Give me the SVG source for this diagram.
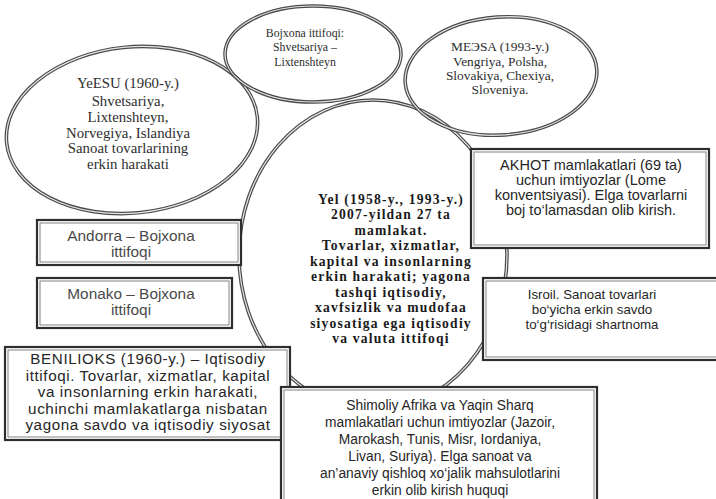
<svg xmlns="http://www.w3.org/2000/svg" width="716" height="499" viewBox="0 0 716 499">
<style>
.ro{fill:none;stroke:#4a4a4a;stroke-width:3.6}
.ri{fill:none;stroke:#e6e6e6;stroke-width:1.2}
.bo{fill:#fff;stroke:#2e2e2e;stroke-width:2.2}
.bi{fill:none;stroke:#777;stroke-width:0.9}
.serif{font-family:"Liberation Serif","DejaVu Serif",serif;fill:#2e2e2e;text-anchor:middle}
.sans{font-family:"Liberation Sans","DejaVu Sans",sans-serif;fill:#262626;text-anchor:middle}
.bold{font-weight:bold;fill:#1a1a1a}
.gray{fill:#4a4a4a}
</style>
<rect width="716" height="499" fill="#fff"/>
<g id="connectors"/>
<g id="yel">
<ellipse class="ro" cx="373" cy="255" rx="134" ry="155"/>
<ellipse class="ri" cx="373" cy="255" rx="134" ry="155"/>
<g class="serif bold" font-size="13.6" letter-spacing="1.2">
<text x="391" y="204">Yel (1958-y., 1993-y.)</text>
<text x="391" y="219">2007-yildan 27 ta</text>
<text x="391" y="235">mamlakat.</text>
<text x="391" y="250">Tovarlar, xizmatlar,</text>
<text x="391" y="266">kapital va insonlarning</text>
<text x="391" y="281">erkin harakati; yagona</text>
<text x="391" y="297">tashqi iqtisodiy,</text>
<text x="391" y="312">xavfsizlik va mudofaa</text>
<text x="391" y="328">siyosatiga ega iqtisodiy</text>
<text x="391" y="343">va valuta ittifoqi</text>
</g>
</g>
<g id="yeesu">
<g transform="rotate(-6 132 130)">
<ellipse class="ro" cx="132" cy="130" rx="126" ry="83"/>
<ellipse class="ri" cx="132" cy="130" rx="126" ry="83"/>
</g>
<g class="serif" font-size="14.8">
<text x="128" y="88">YeESU (1960-y.)</text>
<text x="128" y="106">Shvetsariya,</text>
<text x="128" y="122">Lixtenshteyn,</text>
<text x="128" y="138">Norvegiya, Islandiya</text>
<text x="128" y="153">Sanoat tovarlarining</text>
<text x="128" y="169">erkin harakati</text>
</g>
</g>
<g id="bojxona">
<ellipse class="ro" cx="313" cy="54" rx="88" ry="48"/>
<ellipse class="ri" cx="313" cy="54" rx="88" ry="48"/>
<g class="serif" font-size="11.8">
<text x="305" y="37">Bojxona ittifoqi:</text>
<text x="305" y="51">Shvetsariya –</text>
<text x="305" y="66">Lixtenshteyn</text>
</g>
</g>
<g id="meesa">
<g transform="rotate(-4 501 76)">
<ellipse class="ro" cx="501" cy="76" rx="96" ry="59"/>
<ellipse class="ri" cx="501" cy="76" rx="96" ry="59"/>
</g>
<g class="serif" font-size="13.4">
<text x="500" y="51">MEЭSA (1993-y.)</text>
<text x="500" y="66">Vengriya, Polsha,</text>
<text x="500" y="80">Slovakiya, Chexiya,</text>
<text x="500" y="94">Sloveniya.</text>
</g>
</g>
<g id="akhot">
<rect class="bo" x="471" y="149" width="238" height="99"/>
<rect class="bi" x="474" y="152" width="232" height="93"/>
<g class="sans" font-size="14.5">
<text x="591" y="170">AKHOT mamlakatlari (69 ta)</text>
<text x="591" y="185">uchun imtiyozlar (Lome</text>
<text x="591" y="200">konventsiyasi). Elga tovarlarni</text>
<text x="591" y="215">boj to‘lamasdan olib kirish.</text>
</g>
</g>
<g id="isroil">
<rect class="bo" x="483" y="278" width="240" height="82"/>
<rect class="bi" x="486" y="281" width="234" height="76"/>
<g class="sans" font-size="13.3">
<text x="592" y="299">Isroil. Sanoat tovarlari</text>
<text x="592" y="314">bo‘yicha erkin savdo</text>
<text x="592" y="329">to‘g‘risidagi shartnoma</text>
</g>
</g>
<g id="andorra">
<rect class="bo" x="37" y="220" width="204" height="45"/>
<rect class="bi" x="40" y="223" width="198" height="39"/>
<g class="sans gray" font-size="15.4">
<text x="131" y="241">Andorra – Bojxona</text>
<text x="131" y="257">ittifoqi</text>
</g>
</g>
<g id="monako">
<rect class="bo" x="37" y="278" width="195" height="50"/>
<rect class="bi" x="40" y="281" width="189" height="44"/>
<g class="sans gray" font-size="15.4">
<text x="131" y="299">Monako – Bojxona</text>
<text x="131" y="315">ittifoqi</text>
</g>
</g>
<g id="benilioks">
<rect class="bo" x="5" y="347" width="285" height="93"/>
<rect class="bi" x="8" y="350" width="279" height="87"/>
<g class="sans" font-size="15.2" letter-spacing="0.6">
<text x="148" y="364">BENILIOKS (1960-y.) – Iqtisodiy</text>
<text x="148" y="381">ittifoqi. Tovarlar, xizmatlar, kapital</text>
<text x="148" y="397">va insonlarning erkin harakati,</text>
<text x="148" y="414">uchinchi mamlakatlarga nisbatan</text>
<text x="148" y="430">yagona savdo va iqtisodiy siyosat</text>
</g>
</g>
<g id="shimoliy">
<rect class="bo" x="281" y="387" width="316" height="120"/>
<rect class="bi" x="284" y="390" width="310" height="114"/>
<g class="sans" font-size="13.8">
<text x="440" y="410">Shimoliy Afrika va Yaqin Sharq</text>
<text x="440" y="427">mamlakatlari uchun imtiyozlar (Jazoir,</text>
<text x="440" y="444">Marokash, Tunis, Misr, Iordaniya,</text>
<text x="440" y="461">Livan, Suriya). Elga sanoat va</text>
<text x="440" y="478">an’anaviy qishloq xo‘jalik mahsulotlarini</text>
<text x="440" y="495">erkin olib kirish huquqi</text>
</g>
</g>
</svg>
